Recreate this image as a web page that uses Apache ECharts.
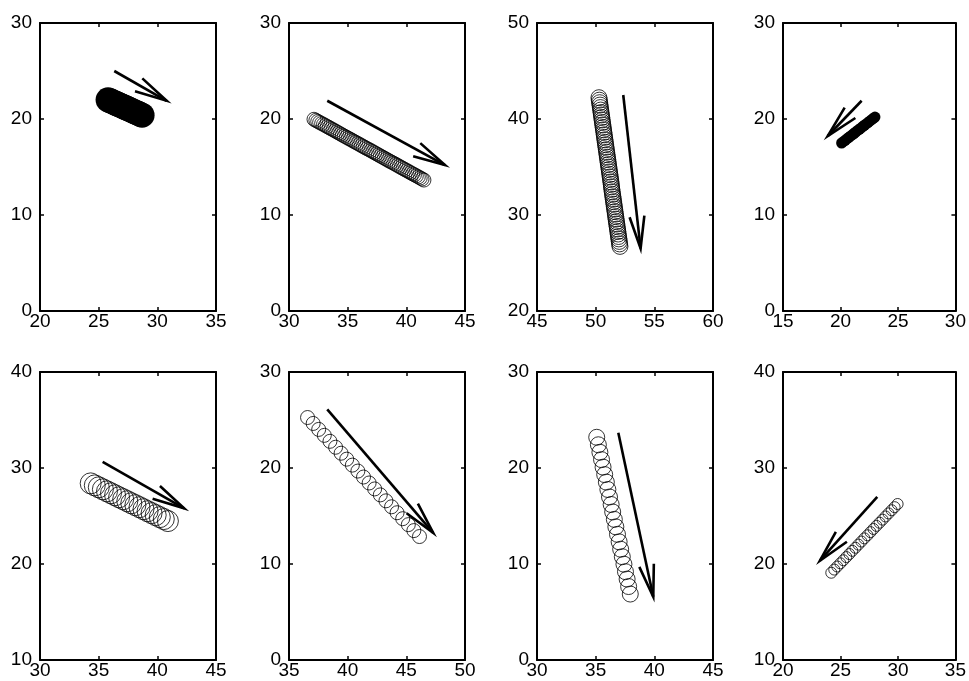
<!DOCTYPE html>
<html><head><meta charset="utf-8">
<script src="https://cdn.jsdelivr.net/npm/echarts@6/dist/echarts.min.js"></script>
<style>html,body{margin:0;padding:0;background:#fff}#c{width:969px;height:681px}</style>
</head><body><div id="c"></div>
<script>
// ---- tick labels per panel ----
const xTicks = [[20,25,30,35],[30,35,40,45],[45,50,55,60],[15,20,25,30],[30,35,40,45],[35,40,45,50],[30,35,40,45],[20,25,30,35]];
const yTicks = [[0,10,20,30],[0,10,20,30],[20,30,40,50],[0,10,20,30],[10,20,30,40],[0,10,20,30],[0,10,20,30],[10,20,30,40]];

// ---- circle traces (centres) ----
const p1X = [25.80,25.95,26.11,26.26,26.41,26.56,26.72,26.87,27.02,27.17,27.33,27.48,27.63,27.78,27.94,28.09,28.24,28.39,28.55,28.70];
const p1Y = [22.00,21.92,21.83,21.75,21.66,21.58,21.49,21.41,21.33,21.24,21.16,21.07,20.99,20.91,20.82,20.74,20.65,20.57,20.48,20.40];
const p2X = [32.13,32.29,32.45,32.61,32.78,32.94,33.10,33.26,33.42,33.58,33.75,33.91,34.07,34.23,34.39,34.55,34.71,34.88,35.04,35.20,35.36,35.52,35.68,35.85,36.01,36.17,36.33,36.49,36.65,36.82,36.98,37.14,37.30,37.46,37.62,37.78,37.95,38.11,38.27,38.43,38.59,38.75,38.92,39.08,39.24,39.40,39.56,39.72,39.88,40.05,40.21,40.37,40.53,40.69,40.85,41.02,41.18,41.34,41.50];
const p2Y = [19.97,19.86,19.75,19.64,19.53,19.43,19.32,19.21,19.10,18.99,18.88,18.77,18.66,18.55,18.44,18.33,18.22,18.11,18.00,17.90,17.79,17.68,17.57,17.46,17.35,17.24,17.13,17.02,16.91,16.81,16.70,16.59,16.48,16.37,16.26,16.15,16.04,15.93,15.82,15.71,15.60,15.50,15.39,15.28,15.17,15.06,14.95,14.84,14.73,14.62,14.51,14.40,14.29,14.19,14.08,13.97,13.86,13.75,13.64];
const p3X = [50.28,50.31,50.34,50.37,50.40,50.43,50.46,50.49,50.52,50.55,50.58,50.61,50.64,50.67,50.70,50.73,50.76,50.79,50.82,50.85,50.88,50.91,50.94,50.97,51.00,51.03,51.06,51.09,51.12,51.15,51.18,51.21,51.24,51.27,51.30,51.33,51.35,51.38,51.41,51.44,51.47,51.50,51.53,51.56,51.59,51.62,51.65,51.68,51.71,51.74,51.77,51.80,51.83,51.86,51.89,51.92,51.95,51.98,52.01,52.04,52.07];
const p3Y = [42.22,41.96,41.70,41.45,41.19,40.93,40.67,40.42,40.16,39.90,39.64,39.38,39.12,38.87,38.61,38.35,38.09,37.83,37.57,37.32,37.06,36.80,36.54,36.28,36.02,35.77,35.51,35.25,34.99,34.74,34.48,34.22,33.96,33.70,33.44,33.19,32.93,32.67,32.41,32.15,31.89,31.64,31.38,31.12,30.86,30.61,30.35,30.09,29.83,29.57,29.31,29.06,28.80,28.54,28.28,28.02,27.76,27.51,27.25,26.99,26.73];
const p4X = [23.00,22.85,22.69,22.54,22.39,22.24,22.08,21.93,21.78,21.63,21.47,21.32,21.17,21.02,20.86,20.71,20.56,20.41,20.25,20.10];
const p4Y = [20.20,20.06,19.92,19.77,19.63,19.49,19.35,19.21,19.06,18.92,18.78,18.64,18.49,18.35,18.21,18.07,17.93,17.78,17.64,17.50];
const p5X = [34.32,34.67,35.01,35.36,35.71,36.05,36.40,36.74,37.09,37.44,37.78,38.13,38.48,38.82,39.17,39.51,39.86,40.21,40.55,40.90];
const p5Y = [28.40,28.19,27.99,27.78,27.57,27.37,27.16,26.95,26.75,26.54,26.33,26.13,25.92,25.71,25.50,25.30,25.09,24.88,24.68,24.47];
const p6X = [36.58,37.06,37.53,38.01,38.49,38.97,39.44,39.92,40.40,40.87,41.35,41.83,42.30,42.78,43.26,43.74,44.21,44.69,45.17,45.64,46.12];
const p6Y = [25.26,24.64,24.02,23.40,22.78,22.16,21.54,20.92,20.30,19.68,19.06,18.44,17.82,17.20,16.58,15.96,15.34,14.72,14.10,13.48,12.86];
const p7X = [35.09,35.23,35.36,35.50,35.63,35.77,35.91,36.04,36.18,36.32,36.45,36.59,36.72,36.86,37.00,37.13,37.27,37.41,37.54,37.68,37.81,37.95];
const p7Y = [23.20,22.42,21.64,20.87,20.09,19.31,18.53,17.76,16.98,16.20,15.42,14.65,13.87,13.09,12.31,11.54,10.76,9.98,9.20,8.43,7.65,6.87];
const p8X = [29.97,29.71,29.45,29.18,28.92,28.66,28.40,28.13,27.87,27.61,27.35,27.08,26.82,26.56,26.30,26.03,25.77,25.51,25.25,24.99,24.72,24.46,24.20];
const p8Y = [26.25,25.92,25.60,25.27,24.95,24.62,24.30,23.97,23.65,23.32,22.99,22.67,22.34,22.02,21.69,21.37,21.04,20.72,20.39,20.07,19.74,19.42,19.09];

// ---- arrows: [x tail, y tail, x tip, y tip] ----
const arrow1 = [26.33, 25.0, 30.79, 21.9];
const arrow2 = [33.26, 21.9, 43.29, 15.2];
const arrow3 = [52.35, 42.5, 53.83, 26.52];
const arrow4 = [21.84, 21.9, 18.89, 18.23];
const arrow5 = [35.34, 30.65, 42.29, 25.8];
const arrow6 = [38.26, 26.11, 47.29, 13.25];
const arrow7 = [36.93, 23.68, 39.91, 6.59];
const arrow8 = [28.2, 27.0, 23.21, 20.34];

// ---- assembly ----
const traces = [[p1X,p1Y],[p2X,p2Y],[p3X,p3Y],[p4X,p4Y],[p5X,p5Y],[p6X,p6Y],[p7X,p7Y],[p8X,p8Y]];
const arrows = [arrow1,arrow2,arrow3,arrow4,arrow5,arrow6,arrow7,arrow8];
const circleSize = [25, 14, 16, 11, 21, 14, 16, 11];
const filled = [true, false, false, true, false, false, false, false];
const lefts = [40, 289, 537, 783];
const tops = [23, 372];
const W = 176, H = 288;
const FONT = 'Liberation Sans';

function renderArrow(params, api) {
  const a = api.coord([api.value(0), api.value(1)]);
  const b = api.coord([api.value(2), api.value(3)]);
  const ang = Math.atan2(b[1] - a[1], b[0] - a[0]);
  const L = 33, h = 13 * Math.PI / 180;
  const c1 = [b[0] - L * Math.cos(ang - h), b[1] - L * Math.sin(ang - h)];
  const c2 = [b[0] - L * Math.cos(ang + h), b[1] - L * Math.sin(ang + h)];
  const style = { stroke: '#000', lineWidth: 2.6, fill: null };
  return { type: 'group', children: [
    { type: 'line', shape: { x1: a[0], y1: a[1], x2: b[0], y2: b[1] }, style: style },
    { type: 'polyline', shape: { points: [c1, b, c2] }, style: style }
  ]};
}

const grid = [], xAxis = [], yAxis = [], series = [];
for (let i = 0; i < 8; i++) {
  const r = i < 4 ? 0 : 1, c = i % 4;
  grid.push({ left: lefts[c], top: tops[r], width: W, height: H, show: false });
  const xt = xTicks[i], yt = yTicks[i];
  const common = (show, pos, isX) => {
    const t = isX ? xt : yt;
    return {
      type: 'value', gridIndex: i, position: pos,
      min: t[0], max: t[t.length - 1], interval: t[1] - t[0],
      axisLine: { show: true, onZero: false, lineStyle: { color: '#000', width: 2 } },
      axisTick: { show: true, inside: true, length: 4, lineStyle: { color: '#000', width: 1.5 } },
      axisLabel: { show: show, margin: isX ? 1 : 8, color: '#000', fontSize: 19, fontFamily: FONT,
                   padding: isX ? 0 : [0, 0, 6, 0],
                   showMinLabel: true, showMaxLabel: true },
      splitLine: { show: false }
    };
  };
  xAxis.push(common(true, 'bottom', true));
  xAxis.push(common(false, 'top', true));
  yAxis.push(common(true, 'left', false));
  yAxis.push(common(false, 'right', false));
  const [xs, ys] = traces[i];
  series.push({
    type: 'scatter', xAxisIndex: 2 * i, yAxisIndex: 2 * i,
    data: xs.map((x, k) => [x, ys[k]]),
    symbol: 'circle', symbolSize: circleSize[i], silent: true,
    itemStyle: filled[i]
      ? { color: '#000', borderColor: '#000', borderWidth: 0, opacity: 1 }
      : { color: 'rgba(0,0,0,0)', borderColor: '#000', borderWidth: 0.8, opacity: 1 }
  });
  series.push({
    type: 'custom', xAxisIndex: 2 * i, yAxisIndex: 2 * i,
    data: [arrows[i]], encode: { x: [0, 2], y: [1, 3] },
    renderItem: renderArrow, silent: true, clip: false
  });
}

const chart = echarts.init(document.getElementById('c'));
chart.setOption({ animation: false, backgroundColor: '#fff', grid, xAxis, yAxis, series });
</script></body></html>
